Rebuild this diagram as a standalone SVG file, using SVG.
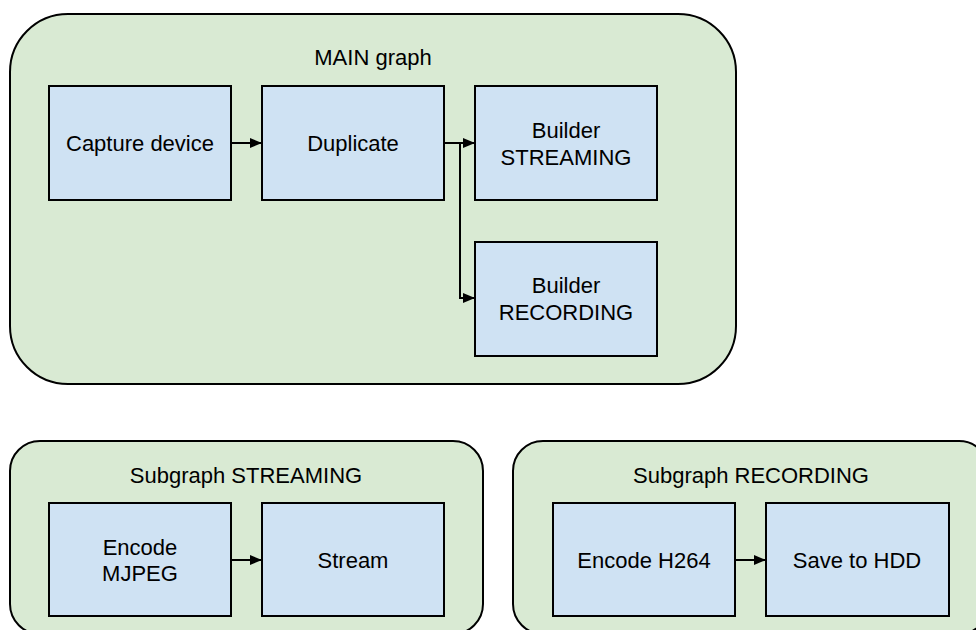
<svg xmlns="http://www.w3.org/2000/svg" width="976" height="630" viewBox="0 0 976 630">
<style>
.grp{fill:#d9ead3;stroke:#000;stroke-width:2}
.box{fill:#cfe2f3;stroke:#000;stroke-width:2}
text{font-family:"Liberation Sans",Arial,sans-serif;font-size:22px;fill:#000;text-anchor:middle}
.ln{fill:none;stroke:#000;stroke-width:2}
</style>
<defs>
<marker id="ah" markerWidth="12" markerHeight="10" refX="12" refY="5" orient="auto" markerUnits="userSpaceOnUse">
<path d="M0,0 L12,5 L0,10 Z" fill="#000"/>
</marker>
</defs>
<rect width="976" height="630" fill="#fff"/>
<g id="main-graph">
<rect class="grp" x="10" y="14" width="726" height="370" rx="58" ry="58"/>
<text x="373" y="65">MAIN graph</text>
</g>
<g id="sub-streaming">
<rect class="grp" x="10" y="441" width="473" height="193" rx="30" ry="30"/>
<text x="246" y="483">Subgraph STREAMING</text>
</g>
<g id="sub-recording">
<rect class="grp" x="513" y="441" width="476" height="193" rx="30" ry="30"/>
<text x="751" y="483">Subgraph RECORDING</text>
</g>
<g id="capture">
<rect class="box" x="49" y="86" width="182" height="114"/>
<text x="140" y="151">Capture device</text>
</g>
<g id="duplicate">
<rect class="box" x="262" y="86" width="182" height="114"/>
<text x="353" y="151">Duplicate</text>
</g>
<g id="builder-streaming">
<rect class="box" x="475" y="86" width="182" height="114"/>
<text x="566" y="138">Builder</text>
<text x="566" y="165">STREAMING</text>
</g>
<g id="builder-recording">
<rect class="box" x="475" y="242" width="182" height="114"/>
<text x="566" y="293">Builder</text>
<text x="566" y="320">RECORDING</text>
</g>
<g id="encode-mjpeg">
<rect class="box" x="49" y="503" width="182" height="113"/>
<text x="140" y="555">Encode</text>
<text x="140" y="581">MJPEG</text>
</g>
<g id="stream">
<rect class="box" x="262" y="503" width="182" height="113"/>
<text x="353" y="568">Stream</text>
</g>
<g id="encode-h264">
<rect class="box" x="553" y="503" width="182" height="113"/>
<text x="644" y="568">Encode H264</text>
</g>
<g id="save-hdd">
<rect class="box" x="766" y="503" width="183" height="113"/>
<text x="857" y="568">Save to HDD</text>
</g>
<g id="connectors">
<path class="ln" d="M231,143 L262,143" marker-end="url(#ah)"/>
<path class="ln" d="M444,143 L475,143" marker-end="url(#ah)"/>
<path class="ln" d="M460,143 L460,298 L475,298" marker-end="url(#ah)"/>
<path class="ln" d="M231,560 L262,560" marker-end="url(#ah)"/>
<path class="ln" d="M735,560 L766,560" marker-end="url(#ah)"/>
</g>
</svg>
